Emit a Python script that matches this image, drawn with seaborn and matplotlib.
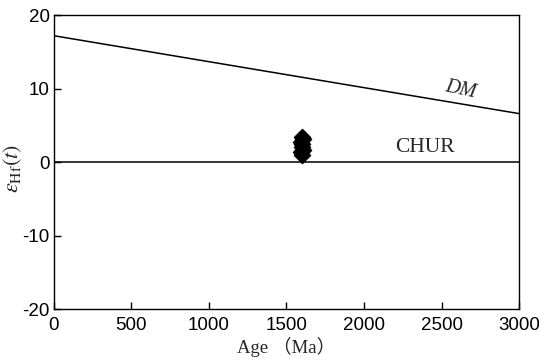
import matplotlib
matplotlib.use("Agg")
import matplotlib.pyplot as plt
import seaborn as sns
import numpy as np
import pandas as pd

# Depleted mantle evolution line (age in Ma, epsilon Hf)
dm_age = [0, 3000]
dm_eps = [17.2, 6.6]

# Chondritic uniform reservoir
chur_age = [0, 3000]
chur_eps = [0, 0]

# Zircon Hf isotope analyses
zircon_age = [1600, 1595, 1605, 1598, 1603, 1596, 1604, 1600]
zircon_eps = [1.0, 1.35, 1.7, 2.05, 2.4, 2.75, 3.1, 3.45]

sns.set_theme(style="ticks")
plt.rcParams["font.family"] = ["Liberation Sans", "DejaVu Sans"]
plt.rcParams["mathtext.fontset"] = "stix"
plt.rcParams["axes.unicode_minus"] = False

fig = plt.figure(figsize=(5.39, 3.61), dpi=100)
ax = fig.add_axes([0.1, 0.144, 0.863, 0.814])

sns.lineplot(x=dm_age, y=dm_eps, ax=ax, color="black", lw=1.1)
sns.lineplot(x=chur_age, y=chur_eps, ax=ax, color="black", lw=1.1)
sns.scatterplot(x=zircon_age, y=zircon_eps, ax=ax, marker="D", s=75,
                color="black", edgecolor="black", linewidth=0.5, zorder=3)

ax.set_xlim(0, 3000)
ax.set_ylim(-20, 20)
ax.set_xticks(np.arange(0, 3001, 500))
ax.set_yticks([-20, -10, 0, 10, 20])
ax.tick_params(direction="in", length=5, width=1, labelsize=13.5,
               colors="black")
ax.tick_params(axis="x", pad=6)
ax.tick_params(axis="y", pad=3)
for s in ax.spines.values():
    s.set_color("black")
    s.set_linewidth(1.0)

ax.set_xlabel("Age （Ma）", family=["Liberation Serif", "Noto Sans CJK SC"],
              fontsize=13.5, labelpad=2)
ax.set_ylabel(r"$\varepsilon_{\mathrm{Hf}}(t)$", fontsize=16)
ax.yaxis.label.set_va("center")
ax.yaxis.set_label_coords(-0.088, 0.48)

ax.text(2620, 9.8, "DM", family="Liberation Serif", style="italic",
        fontsize=14.5, rotation=-12, ha="center", va="center")
ax.text(2390, 2.0, "CHUR", family="Liberation Serif", fontsize=15.5,
        ha="center", va="center")

fig.savefig("out.png", dpi=100)
